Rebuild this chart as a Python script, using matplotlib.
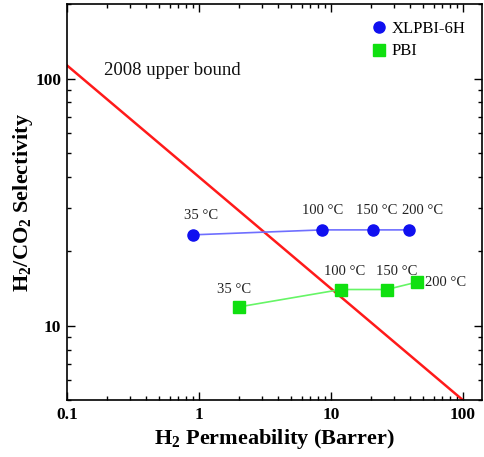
import matplotlib
matplotlib.use("Agg")
import matplotlib.pyplot as plt
import numpy as np
from matplotlib.ticker import LogLocator, NullFormatter

plt.rcParams['font.family'] = ['Liberation Serif', 'DejaVu Serif']
plt.rcParams['mathtext.fontset'] = 'custom'
plt.rcParams['mathtext.rm'] = 'Liberation Serif'
plt.rcParams['mathtext.bf'] = 'Liberation Serif:bold'

# Data
xl_perm = [0.90, 8.6, 20.8, 39.0]
xl_sel = [23.3, 24.4, 24.4, 24.4]
xl_labels = ["35 °C", "100 °C", "150 °C", "200 °C"]

pbi_perm = [2.0, 11.9, 26.5, 45.0]
pbi_sel = [11.9, 14.0, 14.0, 15.0]
pbi_labels = ["35 °C", "100 °C", "150 °C", "200 °C"]

ub_perm = [0.1, 100.0]
ub_sel = [113.0, 5.0]

fig = plt.figure(figsize=(4.84, 4.57), dpi=100)
ax = fig.add_axes([0.1384, 0.1247, 0.996 - 0.1384, 0.991 - 0.1247])
ax.set_xscale('log')
ax.set_yscale('log')
ax.set_xlim(0.1, 140)
ax.set_ylim(5, 200)

ax.plot(ub_perm, ub_sel, color='#ff1a1a', lw=1.8)
ax.plot(xl_perm, xl_sel, color='#6f6fff', lw=1.2, zorder=2)
ax.plot(xl_perm, xl_sel, 'o', color='#1010f0', ms=8, ls='none', zorder=3, label='XLPBI-6H')
ax.plot(pbi_perm, pbi_sel, color='#66f566', lw=1.2, zorder=2)
ax.plot(pbi_perm, pbi_sel, 's', color='#10e010', ms=8, ls='none', zorder=3, label='PBI')

# temperature labels (offsets in points)
xl_off = [(6, 9), (0, 9), (3, 9), (10, 9)]
for x, y, t, o in zip(xl_perm, xl_sel, xl_labels, xl_off):
    ax.annotate(t, (x, y), xytext=o, textcoords='offset points', ha='center', va='bottom',
                fontsize=10.5, color='#222222')
pbi_off = [(-3, 8), (3, 8), (7, 8), (6, 0)]
pbi_ha = ['center', 'center', 'center', 'left']
pbi_va = ['bottom', 'bottom', 'bottom', 'center']
for x, y, t, o, h, v in zip(pbi_perm, pbi_sel, pbi_labels, pbi_off, pbi_ha, pbi_va):
    ax.annotate(t, (x, y), xytext=o, textcoords='offset points', ha=h, va=v,
                fontsize=10.5, color='#222222')

ax.text(0.19, 100, '2008 upper bound', fontsize=13.5, va='bottom', ha='left', color='#111111')

ax.set_xticks([0.1, 1, 10, 100])
ax.set_xticklabels(['0.1', '1', '10', '100'])
ax.set_yticks([10, 100])
ax.set_yticklabels(['10', '100'])
ax.xaxis.set_minor_locator(LogLocator(base=10, subs=np.arange(2, 10)))
ax.yaxis.set_minor_locator(LogLocator(base=10, subs=np.arange(2, 10)))
ax.xaxis.set_minor_formatter(NullFormatter())
ax.yaxis.set_minor_formatter(NullFormatter())
for lab in ax.get_xticklabels() + ax.get_yticklabels():
    lab.set_fontweight('bold')
    lab.set_fontsize(12.5)
ax.tick_params(which='both', direction='in', top=True, right=True, width=1)
ax.tick_params(which='major', length=6)
ax.tick_params(which='minor', length=3)
ax.tick_params(axis='x', pad=5)
ax.tick_params(axis='y', pad=4)
for s in ax.spines.values():
    s.set_linewidth(1.2)

ax.set_xlabel(r'H$_\mathbf{2}$ Permeability (Barrer)', fontsize=16, fontweight='bold', labelpad=3)
ax.set_ylabel(r'H$_\mathbf{2}$/CO$_\mathbf{2}$ Selectivity', fontsize=16, fontweight='bold', labelpad=0)

leg = ax.legend(loc='upper right', frameon=False, fontsize=12, handletextpad=0.3, borderaxespad=0.6,
                handlelength=0.9, labelspacing=0.4)

fig.savefig('out.png', dpi=100)
